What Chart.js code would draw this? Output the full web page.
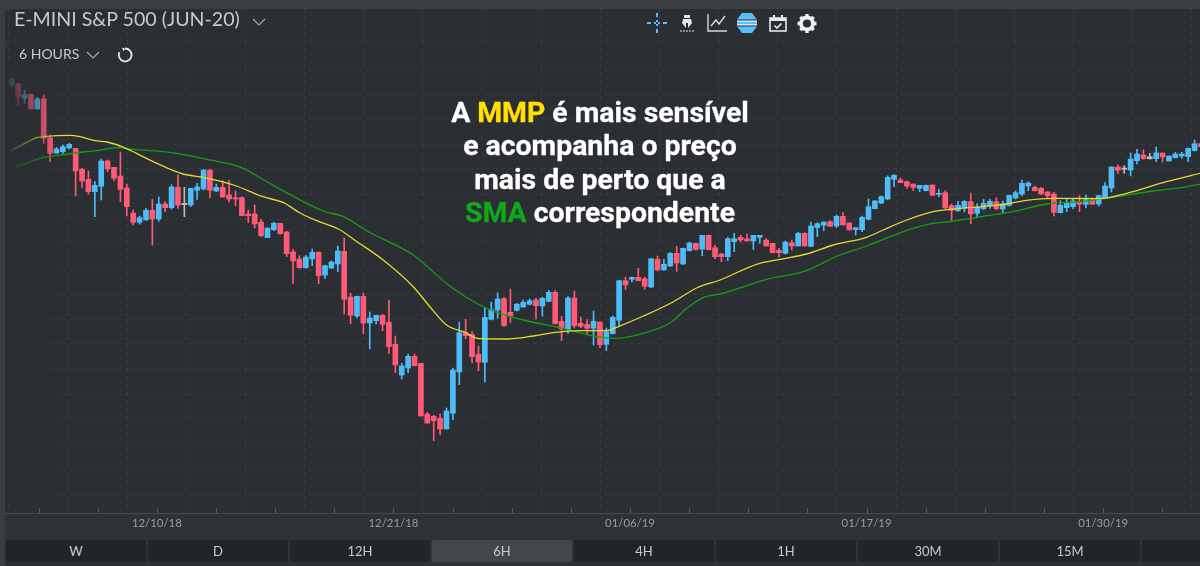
<!DOCTYPE html>
<html>
<head>
<meta charset="utf-8">
<script src="https://cdn.jsdelivr.net/npm/chart.js@4/dist/chart.umd.min.js"></script>
<style>
  html, body { margin: 0; padding: 0; width: 1200px; height: 566px; overflow: hidden; background: #3a3e41; font-family: Lato, sans-serif; }
  #panel { position: absolute; left: 5px; top: 9px; right: 0; bottom: 0; background: #2b2e32; }
  #strip { position: absolute; left: 5px; top: 514px; right: 0; bottom: 0; background: #2e3236; }
  canvas { position: absolute; left: 0; top: 0; }
  #fade { position: absolute; left: 5px; top: 60px; width: 52px; height: 440px; background: linear-gradient(to right, rgba(43,46,50,.93), rgba(43,46,50,0)); }
  .abs { position: absolute; white-space: nowrap; }
  #title { left: 14px; top: 7px; font-size: 19.6px; color: #c8cacc; }
  #period { left: 19px; top: 45px; font-size: 14px; color: #c8cacc; }
  #note { left: 400px; top: 96px; width: 400px; text-align: center; color: #fff; font: 700 28.4px/33.4px Roboto, sans-serif; -webkit-text-stroke: .3px currentColor; }
  #note .mmp { color: #ffe000; }
  #note .sma { color: #12a81c; }
  .tf { position: absolute; top: 540px; width: 140px; height: 22px; border-radius: 2px; background: #212428; color: #c8cacc; font-size: 13px; line-height: 22px; text-align: center; }
  .tf.on { background: #43474b; }
  svg { position: absolute; overflow: visible; }
</style>
</head>
<body>
<div id="panel"></div>
<div id="strip"></div>
<canvas id="chart" width="1200" height="566"></canvas>
<div id="fade"></div>

<div class="abs" id="title">E-MINI S&amp;P 500 (JUN-20)</div>
<svg style="left:252px;top:18px" width="14" height="8"><path d="M1 1l6 6 6-6" fill="none" stroke="#a9abad" stroke-width="1.1"/></svg>
<div class="abs" id="period">6 HOURS</div>
<svg style="left:86px;top:51px" width="14" height="8"><path d="M1 1l6 6 6-6" fill="none" stroke="#a9abad" stroke-width="1.1"/></svg>
<svg style="left:117px;top:47px" width="17" height="17" viewBox="0 0 17 17"><path d="M8 1.5 A6.4 6.4 0 1 1 2.4 5.2" fill="none" stroke="#e6e7e8" stroke-width="1.8"/><path d="M5 0.5l3.4 1.2-2.2 2.6z" fill="#e6e7e8"/></svg>

<svg style="left:647px;top:13px" width="20" height="20"><g stroke="#56c0fa" stroke-width="2"><path d="M0 10h4M7 10h2M11 10h2M16 10h4M10 0v4M10 7v2M10 11v2M10 16v4"/></g></svg>
<svg style="left:680px;top:14px" width="14" height="19" viewBox="0 0 14 19"><path d="M4 1h6v3H4zM3 5h8l1 4-4 5V9H6v5L2 9z" fill="#e6e7e8"/><path d="M0 17h14" stroke="#e6e7e8" stroke-width="1.2" stroke-dasharray="2 1"/></svg>
<svg style="left:707px;top:14px" width="20" height="18" viewBox="0 0 20 18"><path d="M1 0v17h19" fill="none" stroke="#d6d8d9" stroke-width="1.4"/><path d="M4 12l5-6 3 4 6-8" fill="none" stroke="#d6d8d9" stroke-width="1.4"/></svg>
<svg style="left:737px;top:13px" width="20" height="20" viewBox="0 0 20 20"><path d="M5 0h10l5 6.5H0z" fill="#56c0fa"/><path d="M0 7.5h20v1.4H0zM0 11.1h20v1.4H0z" fill="#e6e7e8"/><path d="M0 8.9h20v2.2H0z" fill="#56c0fa"/><path d="M0 13.5h20L15 20H5z" fill="#56c0fa"/></svg>
<svg style="left:769px;top:15px" width="18" height="17" viewBox="0 0 18 17"><rect x="1" y="3" width="16" height="13" fill="none" stroke="#e6e7e8" stroke-width="1.6"/><path d="M1 3h16v3H1zM4 0h2v3H4zM12 0h2v3h-2z" fill="#e6e7e8"/><path d="M5.5 10.5l2.5 2.5 4.5-4.5" fill="none" stroke="#e6e7e8" stroke-width="1.6"/></svg>
<svg style="left:797px;top:14px" width="20" height="19" viewBox="0 0 20 20"><circle cx="10" cy="10" r="6.3" fill="none" stroke="#eeeff0" stroke-width="4"/><g stroke="#eeeff0" stroke-width="3.6"><path d="M10 0v3M10 17v3M0 10h3M17 10h3M3 3l2 2M15 15l2 2M3 17l2-2M15 5l2-2"/></g></svg>

<div class="abs" id="note">A <span class="mmp">MMP</span> é mais sensível<br>e acompanha o preço<br>mais de perto que a<br><span class="sma">SMA</span> correspondente</div>

<script>
const candleIndex = Array.from({ length: 187 }, (_, i) => i);

const openValues = [
  2915, 2916, 2901.7, 2905.7, 2891, 2901, 2862.3, 2847, 2848.3, 2852, 2851.7, 2830.7, 2820.7, 2808.3, 2813.7, 2839,
  2832.7, 2824, 2812, 2787, 2777.7, 2780.3, 2789.7, 2781, 2796, 2792.3, 2812.7, 2796.7, 2795, 2809.7, 2811, 2830,
  2809, 2812.7, 2805, 2802.3, 2802.3, 2786, 2786, 2778, 2762.3, 2770.3, 2776.7, 2768, 2748, 2741, 2732.3, 2741,
  2747.7, 2725, 2732, 2736, 2748.7, 2703, 2684, 2703.7, 2677, 2679.3, 2684.7, 2677.7, 2655.7, 2625, 2632, 2643.7,
  2636.7, 2586, 2583.7, 2581.7, 2571, 2586.7, 2628, 2667.3, 2665.7, 2645.7, 2637.7, 2680.7, 2690, 2701.3, 2687.7, 2689.7,
  2693, 2695.7, 2700, 2694, 2698.7, 2707.7, 2678.7, 2670.3, 2702, 2676.7, 2675.7, 2671.7, 2678, 2655.7, 2666.3, 2679.7,
  2719.3, 2720.7, 2722.7, 2721.3, 2713, 2740.7, 2730, 2734, 2746.7, 2736, 2749.3, 2756.7, 2751, 2764.7, 2752.3, 2746,
  2743.3, 2758.3, 2762.7, 2761, 2759, 2762.7, 2760, 2756.7, 2749.7, 2746.7, 2757.3, 2754, 2766.7, 2753.7, 2772.3, 2774.7,
  2778.3, 2774, 2783.7, 2777, 2770.3, 2770.3, 2780.7, 2791.3, 2797, 2801, 2820.7, 2820, 2818.3, 2816, 2811.7, 2809.3,
  2815, 2805.7, 2807.3, 2794.3, 2789.3, 2792.3, 2798.3, 2786.7, 2791.3, 2794.3, 2798.3, 2791, 2794.7, 2802, 2806, 2814,
  2812.7, 2811.7, 2808, 2806, 2787.3, 2792.3, 2793.3, 2798.3, 2795.7, 2799.7, 2796, 2802, 2812, 2833, 2832, 2830,
  2839.3, 2845, 2843.3, 2841.3, 2847, 2839, 2842.3, 2844, 2843.3, 2849.3, 2856.3
];
const highValues = [
  2922.7, 2916.7, 2910, 2905.7, 2902.7, 2905, 2865, 2852.7, 2855, 2856.7, 2851.7, 2831.7, 2829, 2818.3, 2841, 2840,
  2832.7, 2848, 2816, 2790, 2784, 2791.7, 2800.7, 2803, 2798.3, 2815.3, 2825, 2812.7, 2811.7, 2816.7, 2830.7, 2830.7,
  2816, 2819.3, 2819.3, 2809, 2803.3, 2790, 2795, 2780.7, 2772, 2777.7, 2776.7, 2768.7, 2750.7, 2744.3, 2744.7, 2751,
  2748.3, 2735, 2739, 2754, 2762, 2706.7, 2704, 2707, 2688, 2685, 2685.7, 2700, 2664, 2636.7, 2646, 2646,
  2636.7, 2587.7, 2584.7, 2586, 2592, 2632, 2678, 2680.7, 2668.3, 2654, 2692.7, 2698, 2707.3, 2702.7, 2711, 2696.7,
  2700, 2701, 2701.7, 2702.7, 2709.7, 2709.7, 2683.7, 2703.3, 2709, 2683, 2680.3, 2689, 2678, 2672, 2684, 2720,
  2723, 2723, 2731.7, 2723, 2741.3, 2744, 2740.7, 2747.3, 2753.7, 2752, 2758, 2757, 2764.7, 2765, 2755, 2746.7,
  2762.7, 2766.7, 2764.7, 2766, 2764.7, 2764.7, 2761.3, 2756.7, 2751.7, 2759, 2760, 2767.7, 2767.3, 2778, 2777.3, 2778,
  2779.3, 2785, 2787.3, 2777.3, 2772.3, 2784, 2801, 2799.7, 2804, 2824.3, 2825.3, 2821.7, 2819, 2816, 2814.7, 2815,
  2815.3, 2810.7, 2809.3, 2796, 2798.7, 2799.3, 2807, 2796.3, 2800.7, 2800.7, 2802.3, 2799, 2805, 2809, 2820, 2818.3,
  2814, 2812.7, 2808.3, 2807.7, 2799.3, 2800.7, 2801, 2804.3, 2805, 2802, 2805, 2817.3, 2833.3, 2835, 2834.3, 2847,
  2850.7, 2850, 2846.7, 2853, 2847, 2844, 2847.7, 2847.7, 2852, 2860, 2857.3
];
const lowValues = [
  2913.3, 2895, 2896.7, 2891, 2890.7, 2856.7, 2838.3, 2846.7, 2846.7, 2851, 2804, 2812.7, 2805.7, 2783.3, 2800, 2828.3,
  2819.3, 2798.3, 2784.3, 2775, 2775.7, 2779.3, 2755, 2778.7, 2788, 2791, 2791.7, 2783.3, 2793.3, 2800.7, 2810, 2802.3,
  2808.3, 2802.7, 2798, 2794.3, 2784, 2777.3, 2772, 2763.3, 2762.3, 2769.3, 2765.7, 2743.3, 2716.7, 2731.7, 2731.7, 2734.3,
  2716.3, 2721.7, 2731.3, 2728.3, 2686, 2676.3, 2682, 2666.3, 2651, 2676, 2669.3, 2646.7, 2627.3, 2621, 2627.3, 2634,
  2584, 2577, 2559.3, 2565, 2571, 2580.3, 2615.3, 2661.3, 2637, 2629.3, 2618, 2680, 2681.7, 2673.7, 2677.3, 2689,
  2692.7, 2695, 2681, 2684, 2698.3, 2676, 2659.3, 2666.7, 2672, 2672.3, 2666.7, 2655, 2652.3, 2649.3, 2666, 2674.3,
  2710.3, 2718, 2719.3, 2710.7, 2712.3, 2729, 2729.7, 2733.3, 2728.7, 2735.7, 2749, 2749.7, 2744.3, 2750, 2741.3, 2738.3,
  2739.3, 2748.3, 2758, 2759, 2750.3, 2756.7, 2754, 2747, 2743, 2746, 2750, 2754, 2754, 2753.3, 2763.3, 2769.3,
  2773.3, 2772.3, 2775, 2770, 2765, 2768.3, 2780, 2791, 2796.3, 2800.3, 2813.3, 2817.3, 2811.7, 2809.3, 2808.3, 2809,
  2804.3, 2803.3, 2791.3, 2779.7, 2788.7, 2788, 2776.3, 2783.3, 2790, 2791.7, 2790, 2787, 2794, 2801, 2804, 2809.3,
  2809, 2805.7, 2802, 2784, 2787, 2788.3, 2791.3, 2788.3, 2792, 2795.7, 2794, 2801.3, 2808, 2826.7, 2826.7, 2824,
  2836, 2840.7, 2840.7, 2838.3, 2838, 2839, 2842, 2841.7, 2838.3, 2849, 2852.7
];
const closeValues = [
  2920.7, 2902.7, 2905.7, 2891, 2901, 2861.7, 2846.7, 2851, 2853.3, 2855.7, 2829, 2819, 2808.3, 2814.7, 2839, 2831,
  2821.7, 2810.7, 2793.3, 2777.7, 2782.3, 2789.7, 2781, 2796, 2792.3, 2813, 2795, 2795.3, 2811.7, 2813, 2830, 2809.7,
  2812.7, 2803, 2801, 2801, 2784.3, 2784.3, 2776, 2764.3, 2772, 2776.7, 2766.3, 2746.3, 2739, 2732.3, 2743, 2747.7,
  2724.3, 2734.3, 2738, 2749, 2700.7, 2684.7, 2703.7, 2677, 2682, 2684.7, 2675.7, 2653.3, 2635, 2634, 2643.7, 2634.3,
  2584, 2577, 2579.3, 2571, 2589, 2630, 2667.3, 2664.3, 2643.3, 2638, 2682.7, 2690.3, 2701, 2674.3, 2684, 2695.7,
  2697.7, 2699.3, 2694.3, 2701.7, 2707.7, 2676.3, 2671, 2702, 2674.3, 2673.7, 2671.7, 2678.7, 2655.3, 2668.3, 2682.7, 2719.3,
  2715, 2722.7, 2719.3, 2713.7, 2741.3, 2730, 2735.7, 2746.7, 2737, 2751.7, 2757, 2750.7, 2764.7, 2750.3, 2743.3, 2743.3,
  2761.3, 2761.3, 2760, 2759, 2764.7, 2764.7, 2754, 2747.3, 2747.3, 2758, 2754, 2766.7, 2754, 2774, 2776.3, 2778,
  2773.7, 2783.7, 2775, 2770, 2772.3, 2782.7, 2793.3, 2799, 2803.3, 2822.7, 2824.7, 2817.3, 2814, 2812.7, 2814.7, 2814.7,
  2804.7, 2806.7, 2792.3, 2789.7, 2794.7, 2798.7, 2786, 2793, 2796.7, 2798.7, 2791.3, 2796, 2804.7, 2807.3, 2816.7, 2817,
  2809.3, 2806, 2804.3, 2787.7, 2794.7, 2796.7, 2799, 2795.7, 2800.3, 2795.7, 2804.3, 2814, 2833, 2829.7, 2830.7, 2841,
  2846, 2841.3, 2841.3, 2847, 2843, 2844, 2846, 2846, 2851.7, 2856.3, 2853.3
];
const dojiCandles = [27, 174, 178];

// moving averages, read at the bends of each line
const mmpAt = [0, 1.3, 3.9, 4.9, 9.1, 10.7, 13, 14.9, 17.5, 19.5, 22.7, 26.8, 30, 34.7, 39.3, 42.5, 45.1, 47.7, 51.1, 54, 58.1, 62.8, 65.4, 68, 70.6, 73.2, 77.4, 81.6, 84.7, 88.9, 93.3, 94.6, 98.8, 103.5, 107.1, 110.8, 116.5, 120.2, 124.3, 128.5, 133.7, 136.3, 140, 144.1, 146.7, 150.4, 155.6, 158.7, 162.9, 170.2, 174.4, 180.6, 185.9];
const mmpValues = [2850, 2854, 2862.3, 2863.3, 2864.7, 2863.3, 2859.3, 2858, 2852.7, 2846.7, 2836.7, 2826, 2822.7, 2815, 2803.3, 2797.3, 2787, 2779.3, 2771, 2758.3, 2740, 2713.3, 2693.3, 2675, 2668.3, 2661.3, 2661, 2664, 2667.3, 2669.3, 2669.7, 2672.7, 2684, 2698.3, 2712, 2720, 2735.7, 2740.7, 2746, 2755, 2762.7, 2770, 2780, 2788.3, 2790.7, 2792.7, 2796, 2799.7, 2801.7, 2801.3, 2806.7, 2818.3, 2826.7];
const smaAt = [0.5, 4.4, 7, 11.2, 13.3, 16.4, 19, 24.8, 30.5, 36.2, 39.9, 45.1, 48.7, 51.9, 55.5, 62.8, 68.5, 73.2, 76.3, 80, 85.7, 91.5, 94.1, 98.8, 103, 105.6, 108.2, 110.8, 118.1, 123.8, 129.5, 133.7, 140.5, 144.1, 146.7, 151.9, 156.6, 161.9, 167.1, 172.8, 178.5, 183.2, 185.9];
const smaValues = [2832.3, 2841.7, 2844.3, 2848, 2849.3, 2852.3, 2850.7, 2847.7, 2840.7, 2831.7, 2818.3, 2800, 2789, 2783.3, 2769.3, 2745, 2714, 2695, 2686.7, 2680, 2672.3, 2663.3, 2661.7, 2666.7, 2677.3, 2691.7, 2702.7, 2706, 2720.7, 2728.3, 2745, 2754, 2770.7, 2776.7, 2778.3, 2783.7, 2788.3, 2796, 2798.3, 2803.3, 2809, 2812.7, 2816];

const tickLabels = ['', '', '12/10/18', '', '', '', '12/21/18', '', '', '', '01/06/19', '', '', '', '01/17/19', '', '', '', '01/30/19', ''];
const tickValues = tickLabels.map((_, i) => 4.2 + i * 9.25);
const gridValues = [2956, 2931, 2906, 2881, 2856, 2831, 2806, 2781, 2756, 2731, 2706, 2681, 2656, 2631, 2606, 2581, 2556, 2531, 2506];
const timeframes = ['W', 'D', '12H', '6H', '4H', '1H', '30M', '15M', ''];

const UP = '#4fbcf7', DOWN = '#ff5a78', DOJI = '#b9bbbd';

const candleColors = candleIndex.map(i => {
  if (dojiCandles.includes(i)) return DOJI;
  return closeValues[i] >= openValues[i] ? UP : DOWN;
});

// little tick marks sitting on top of the time axis
const axisTicks = {
  id: 'axisTicks',
  afterDraw(chart) {
    const { ctx, scales: { x }, chartArea } = chart;
    ctx.save();
    ctx.strokeStyle = 'rgba(255,255,255,.22)';
    tickValues.forEach(v => {
      const px = Math.round(x.getPixelForValue(v)) + .5;
      ctx.beginPath();
      ctx.moveTo(px, chartArea.bottom - 5);
      ctx.lineTo(px, chartArea.bottom);
      ctx.stroke();
    });
    ctx.restore();
  }
};

new Chart(document.getElementById('chart'), {
  type: 'bar',
  plugins: [axisTicks],
  data: {
    datasets: [
      {
        type: 'line', label: 'MMP', order: 0,
        data: mmpAt.map((x, i) => ({ x, y: mmpValues[i] })),
        borderColor: '#e4da30', borderWidth: 1.3, pointRadius: 0, cubicInterpolationMode: 'monotone'
      },
      {
        type: 'line', label: 'SMA', order: 1,
        data: smaAt.map((x, i) => ({ x, y: smaValues[i] })),
        borderColor: '#14a014', borderWidth: 1.3, pointRadius: 0, cubicInterpolationMode: 'monotone'
      },
      {
        label: 'body', order: 2, grouped: false,
        data: candleIndex.map(i => ({ x: i, y: [openValues[i], closeValues[i]] })),
        backgroundColor: candleColors, barThickness: 5, borderWidth: 0
      },
      {
        label: 'wick', order: 3, grouped: false,
        data: candleIndex.map(i => ({ x: i, y: [lowValues[i], highValues[i]] })),
        backgroundColor: candleColors, barThickness: 1, borderWidth: 0
      }
    ]
  },
  options: {
    responsive: false,
    animation: false,
    devicePixelRatio: 1,
    layout: { padding: { left: 5, top: 8, right: 0, bottom: 0 } },
    plugins: { legend: { display: false }, tooltip: { enabled: false } },
    scales: {
      x: {
        type: 'linear', offset: false,
        min: -1.05, max: 185.85,
        afterBuildTicks: scale => { scale.ticks = tickValues.map(value => ({ value })); },
        afterFit: scale => { scale.height = 53; },
        grid: { color: 'rgba(255,255,255,.06)', drawTicks: false },
        border: { color: 'rgba(255,255,255,.14)', dash: [4, 4] },
        ticks: {
          autoSkip: false, maxRotation: 0, padding: 3,
          color: '#9b9d9f', font: { family: 'Lato', size: 11.4 },
          callback: (value, index) => tickLabels[index]
        }
      },
      y: {
        min: 2487, max: 2992,
        afterBuildTicks: scale => { scale.ticks = gridValues.map(value => ({ value })); },
        afterFit: scale => { scale.width = 0; },
        grid: { color: 'rgba(255,255,255,.06)', drawTicks: false },
        border: { display: false, dash: [4, 4] },
        ticks: { display: false }
      }
    }
  }
});

timeframes.forEach((label, i) => {
  const el = document.createElement('div');
  el.className = 'tf' + (label === '6H' ? ' on' : '');
  el.style.left = (6 + i * 142) + 'px';
  el.textContent = label;
  document.body.appendChild(el);
});
</script>
</body>
</html>
